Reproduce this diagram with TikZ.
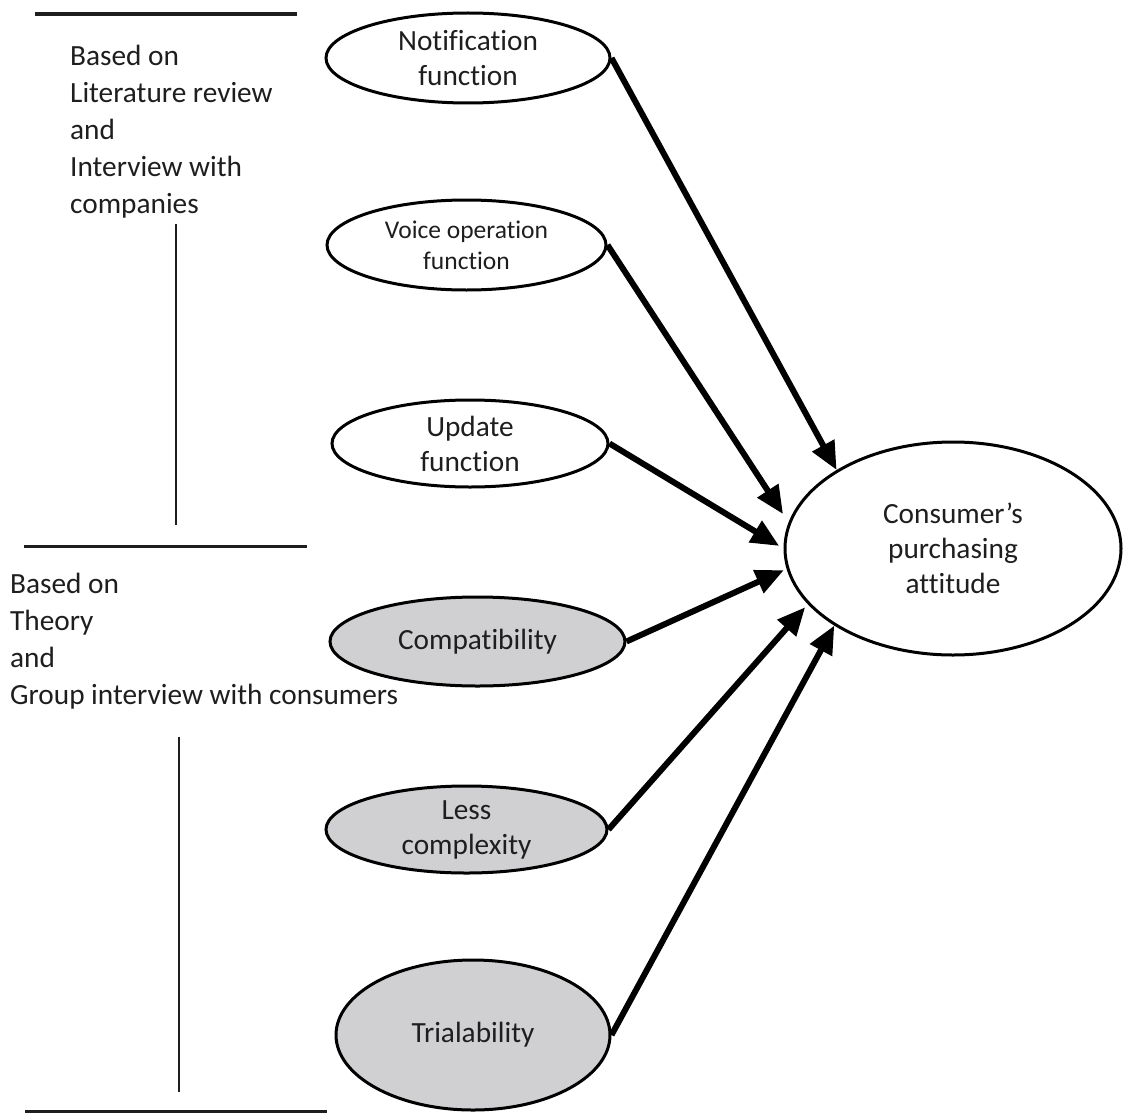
\documentclass[tikz,border=0pt]{standalone}
\usepackage{fontspec}
\setmainfont{Carlito}[Ligatures={NoCommon}]
\usetikzlibrary{shapes.geometric,arrows.meta}
\definecolor{ovalgray}{RGB}{208,207,210}
\definecolor{inkgray}{RGB}{30,30,30}
\begin{document}
\begin{tikzpicture}[x=1pt,y=-1pt,
  oval/.style={ellipse,draw=black,line width=3pt,inner sep=0pt,align=center,
    text=inkgray,font=\fontsize{29.3}{35}\selectfont},
  grayoval/.style={oval,fill=ovalgray},
  sidetext/.style={anchor=north west,inner sep=0pt,align=left,text=inkgray,
    font=\fontsize{29.3}{37}\selectfont},
  rulething/.style={line width=3pt,draw=inkgray},
  link/.style={line width=6pt,draw=black,-{Triangle[length=28pt,width=24pt]}}
]
\useasboundingbox (0,0) rectangle (1126,1113);

% left rules
\draw[rulething,line width=3.5pt] (35,14) -- (297,14);
\draw[rulething,line width=2.5pt] (176,224) -- (176,525);
\draw[rulething] (24,546) -- (307,546);
\draw[rulething,line width=2.5pt] (179,737) -- (179,1092);
\draw[rulething] (25,1111) -- (327,1111);

% side texts
\node[sidetext] (src1) at (70,45) {Based on\\Literature review\\and\\Interview with\\companies};
\node[sidetext] (src2) at (10,573) {Based on\\Theory\\and\\Group interview with consumers};

% ovals
\node[oval,minimum width=284pt,minimum height=90pt] (notif) at (468,58) {Notification\\function};
\node[oval,minimum width=279pt,minimum height=90pt,font=\fontsize{25.5}{31}\selectfont] (voice) at (466.5,245) {Voice operation\\function};
\node[oval,minimum width=276pt,minimum height=87pt] (update) at (470,443.5) {Update\\function};
\node[grayoval,minimum width=295pt,minimum height=89pt] (compat) at (477.5,641.5) {Compatibility};
\node[grayoval,minimum width=281pt,minimum height=87pt] (lesscx) at (466.5,829.5) {Less\\complexity};
\node[grayoval,minimum width=274pt,minimum height=150pt] (trial) at (473,1035) {\raisebox{-3pt}{Trialability}};
\node[oval,minimum width=336pt,minimum height=213pt] (cons) at (953,548.5) {Consumer’s\\purchasing\\attitude};

% arrows
\draw[link] (notif.east) -- (cons.146);
\draw[link,shorten >=10pt] (voice.east) -- (cons.171);
\draw[link,shorten >=5pt] (update.east) -- (cons.180);
\draw[link,shorten >=3pt] (compat.east) -- (cons.187);
\draw[link,shorten >=4pt] (lesscx.east) -- (cons.201);
\draw[link] (trial.east) -- (cons.213);
\end{tikzpicture}
\end{document}
